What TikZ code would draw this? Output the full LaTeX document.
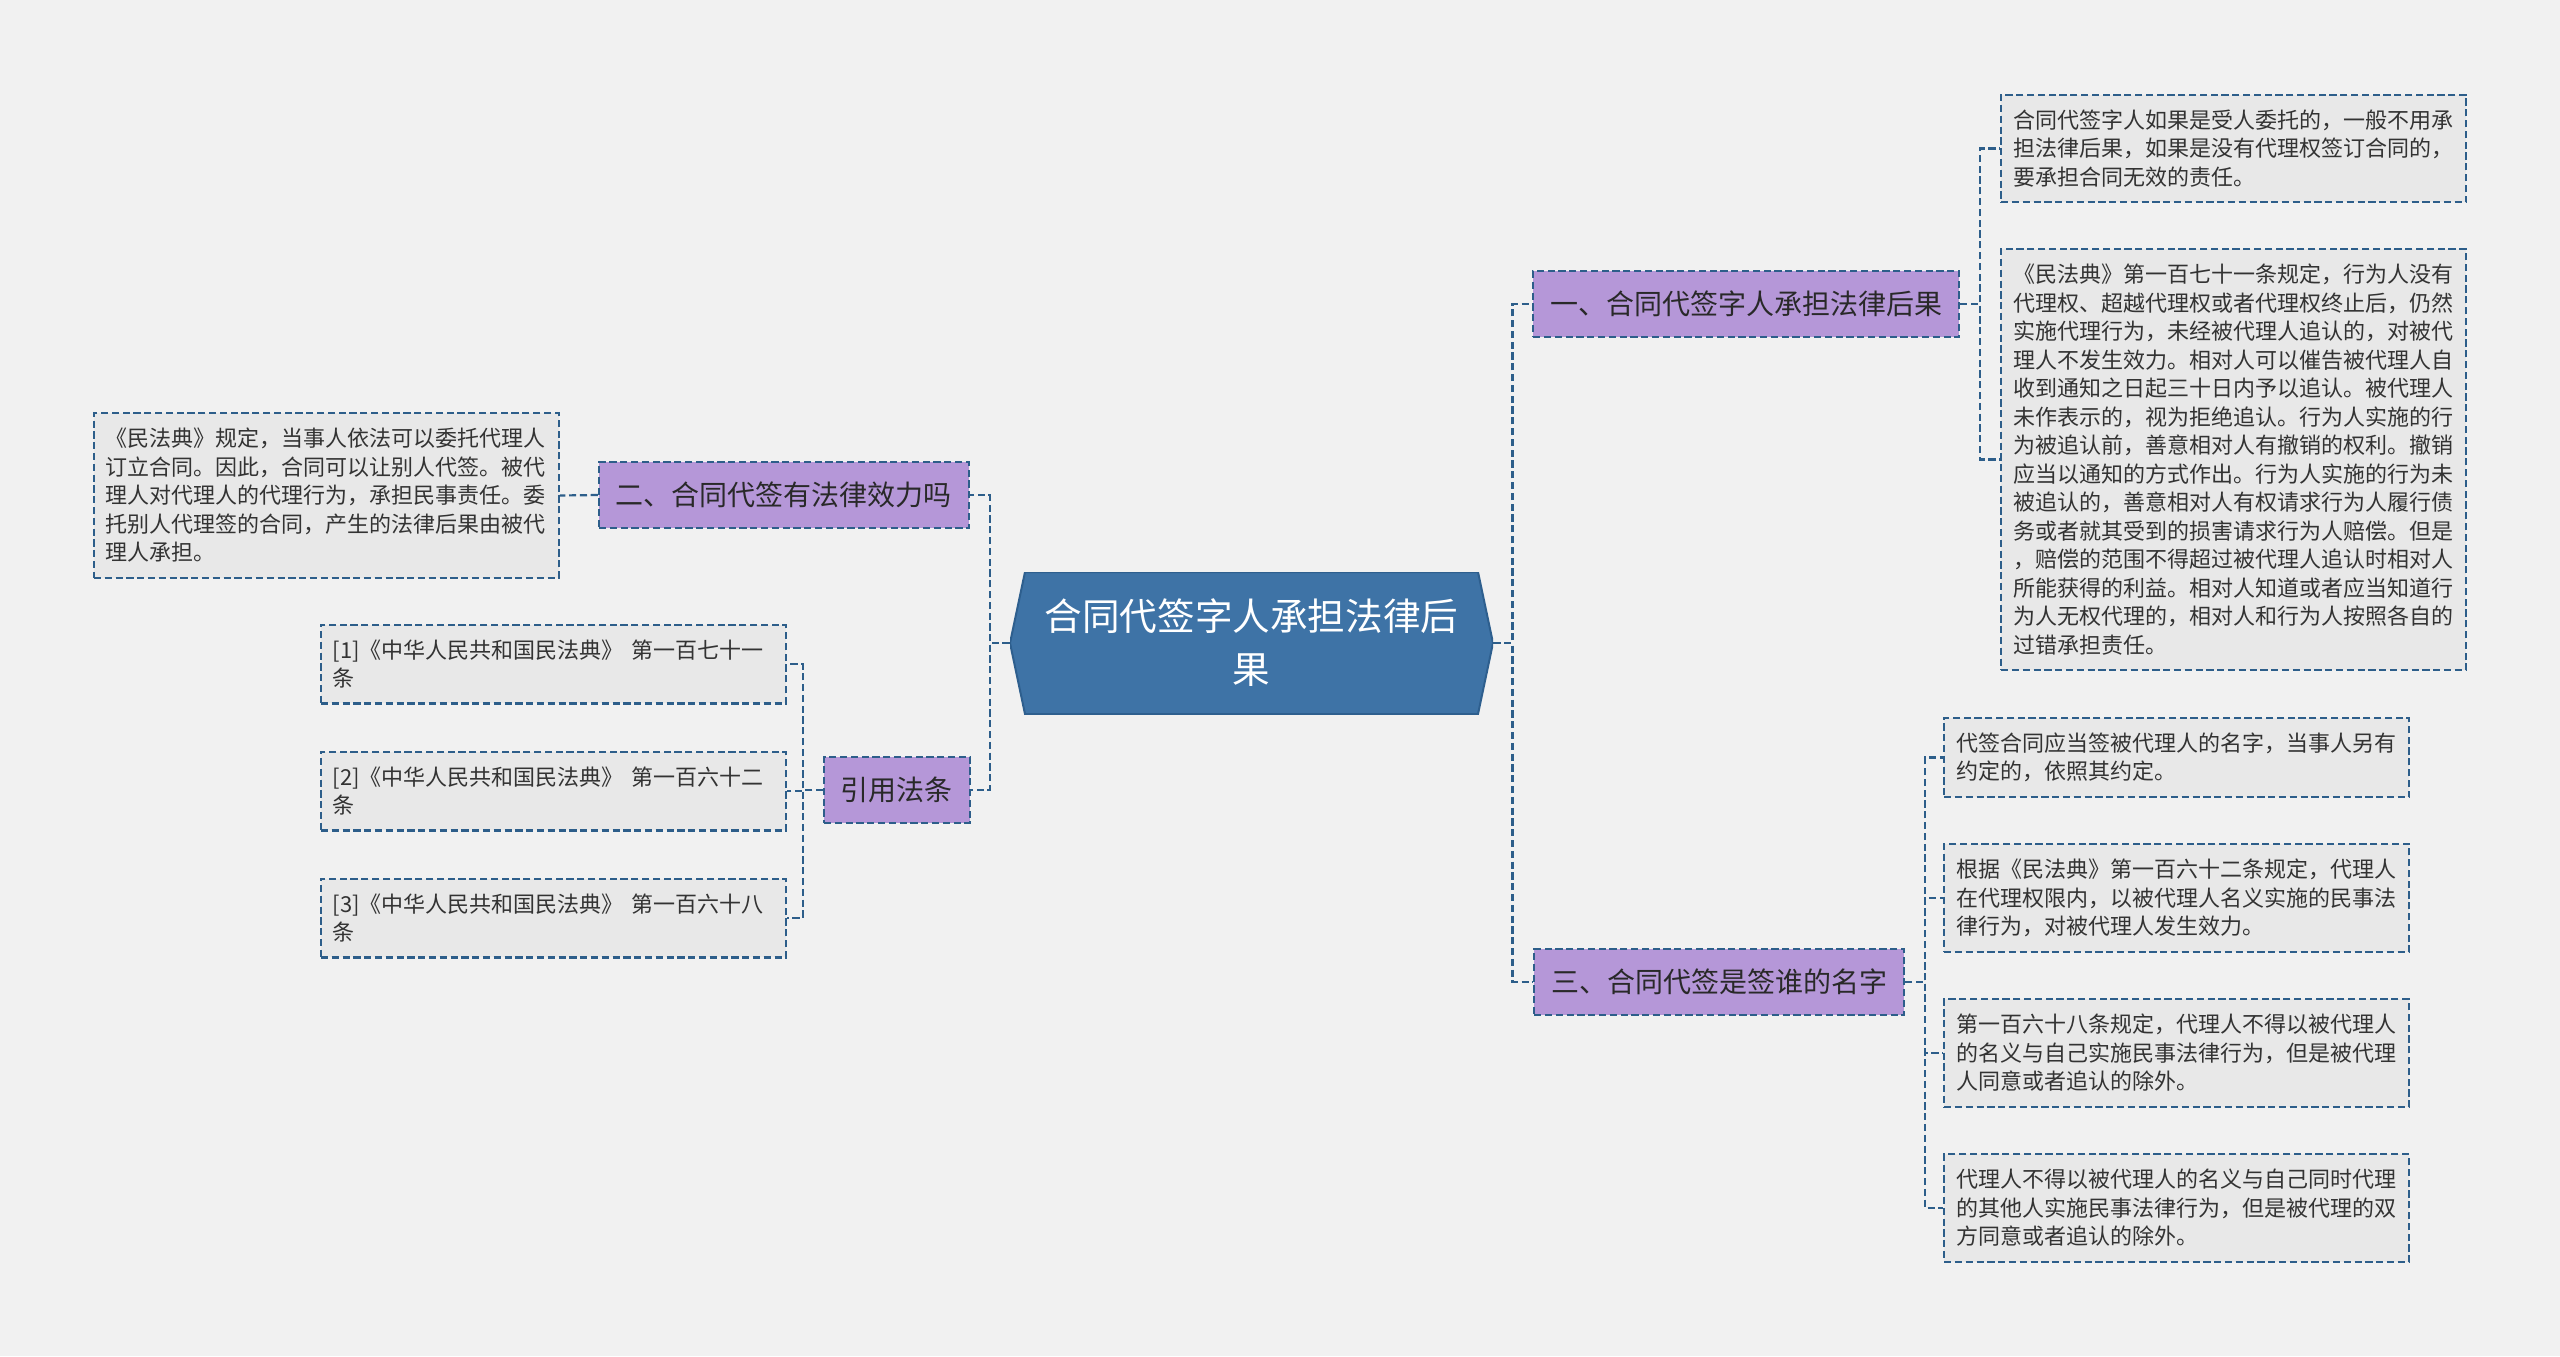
\documentclass[tikz,border=0pt]{standalone}
\usepackage{fontspec}
\setmainfont{Noto Sans CJK SC}
\usetikzlibrary{calc,positioning}
\definecolor{paper}{HTML}{F1F1F1}
\definecolor{leafgray}{HTML}{E8E8E8}
\definecolor{topicpurple}{HTML}{B597D8}
\definecolor{lineblue}{HTML}{2D5E8A}
\definecolor{rootblue}{HTML}{3E73A6}
\definecolor{rootedge}{HTML}{2E5F8E}
\definecolor{inktext}{HTML}{333333}

\begin{document}
\begin{tikzpicture}[x=0.5pt, y=-0.5pt,
    dashline/.style={draw=lineblue, line width=1.1pt, dash pattern=on 3.6pt off 1.8pt},
    link/.style={dashline, line width=1.1pt},
    leaf/.style={dashline, fill=leafgray, text=inktext, align=left,
      font=\fontsize{11pt}{14.25pt}\selectfont,
      text width=220.5pt, inner xsep=6pt, inner ysep=7.5pt},
    topic/.style={dashline, fill=topicpurple, text=inktext!80!black,
      font=\fontsize{14pt}{16pt}\selectfont,
      inner xsep=8.5pt, minimum height=33pt},
    root/.style={text=white, align=center,
      font=\fontsize{18.8pt}{26.5pt}\selectfont,
      minimum width=241.5pt, minimum height=71pt,
      path picture={\fill[rootblue, draw=rootedge, line width=1pt]
        (path picture bounding box.west)
        -- ($(path picture bounding box.north west)+(15,0)$)
        -- ($(path picture bounding box.north east)+(-15,0)$)
        -- (path picture bounding box.east)
        -- ($(path picture bounding box.south east)+(-15,0)$)
        -- ($(path picture bounding box.south west)+(15,0)$) -- cycle;}},
  ]
  \useasboundingbox (0,0) rectangle (2560,1356);
  \fill[paper] (0,0) rectangle (2560,1356);

  % centre
  \node[root] (root) at (1251.5,643) {合同代签字人承担法律后\\果};

  % topics
  \node[topic, anchor=west] (b1) at (1532,304) {一、合同代签字人承担法律后果};
  \node[topic, anchor=west] (b3) at (1533,982) {三、合同代签是签谁的名字};
  \node[topic, anchor=east] (b2) at (970,495) {二、合同代签有法律效力吗};
  \node[topic, anchor=east] (b4) at (971,790) {引用法条};

  % right leaves
  \node[leaf, anchor=west] (ra) at (2000,148.5) {合同代签字人如果是受人委托的，一般不用承\\担法律后果，如果是没有代理权签订合同的，\\要承担合同无效的责任。};
  \node[leaf, anchor=west] (rb) at (2000,459.5) {《民法典》第一百七十一条规定，行为人没有\\代理权、超越代理权或者代理权终止后，仍然\\实施代理行为，未经被代理人追认的，对被代\\理人不发生效力。相对人可以催告被代理人自\\收到通知之日起三十日内予以追认。被代理人\\未作表示的，视为拒绝追认。行为人实施的行\\为被追认前，善意相对人有撤销的权利。撤销\\应当以通知的方式作出。行为人实施的行为未\\被追认的，善意相对人有权请求行为人履行债\\务或者就其受到的损害请求行为人赔偿。但是\\，赔偿的范围不得超过被代理人追认时相对人\\所能获得的利益。相对人知道或者应当知道行\\为人无权代理的，相对人和行为人按照各自的\\过错承担责任。};
  \node[leaf, anchor=west] (rc1) at (1943,757.5) {代签合同应当签被代理人的名字，当事人另有\\约定的，依照其约定。};
  \node[leaf, anchor=west] (rc2) at (1943,898) {根据《民法典》第一百六十二条规定，代理人\\在代理权限内，以被代理人名义实施的民事法\\律行为，对被代理人发生效力。};
  \node[leaf, anchor=west] (rc3) at (1943,1053) {第一百六十八条规定，代理人不得以被代理人\\的名义与自己实施民事法律行为，但是被代理\\人同意或者追认的除外。};
  \node[leaf, anchor=west] (rc4) at (1943,1208) {代理人不得以被代理人的名义与自己同时代理\\的其他人实施民事法律行为，但是被代理的双\\方同意或者追认的除外。};

  % left leaves
  \node[leaf, anchor=east] (la) at (560,495.5) {《民法典》规定，当事人依法可以委托代理人\\订立合同。因此，合同可以让别人代签。被代\\理人对代理人的代理行为，承担民事责任。委\\托别人代理签的合同，产生的法律后果由被代\\理人承担。};
  \node[leaf, anchor=east] (l1) at (787,664) {[1]《中华人民共和国民法典》~第一百七十一\\条};
  \node[leaf, anchor=east] (l2) at (787,791) {[2]《中华人民共和国民法典》~第一百六十二\\条};
  \node[leaf, anchor=east] (l3) at (787,918) {[3]《中华人民共和国民法典》~第一百六十八\\条};

  % connectors
  \draw[link] (root.east) -- ++(19,0) |- (b1.west);
  \draw[link] (root.east) -- ++(19,0) |- (b3.west);
  \draw[link] (root.west) -- ++(-20,0) |- (b2.east);
  \draw[link] (root.west) -- ++(-20,0) |- (b4.east);
  \foreach \n in {ra,rb}
    \draw[link] (b1.east) -- ++(20,0) |- (\n.west);
  \foreach \n in {rc1,rc2,rc3,rc4}
    \draw[link] (b3.east) -- ++(20,0) |- (\n.west);
  \draw[link] (b2.west) -- (la.east);
  \foreach \n in {l1,l2,l3}
    \draw[link] (b4.west) -- ++(-20,0) |- (\n.east);
\end{tikzpicture}
\end{document}
